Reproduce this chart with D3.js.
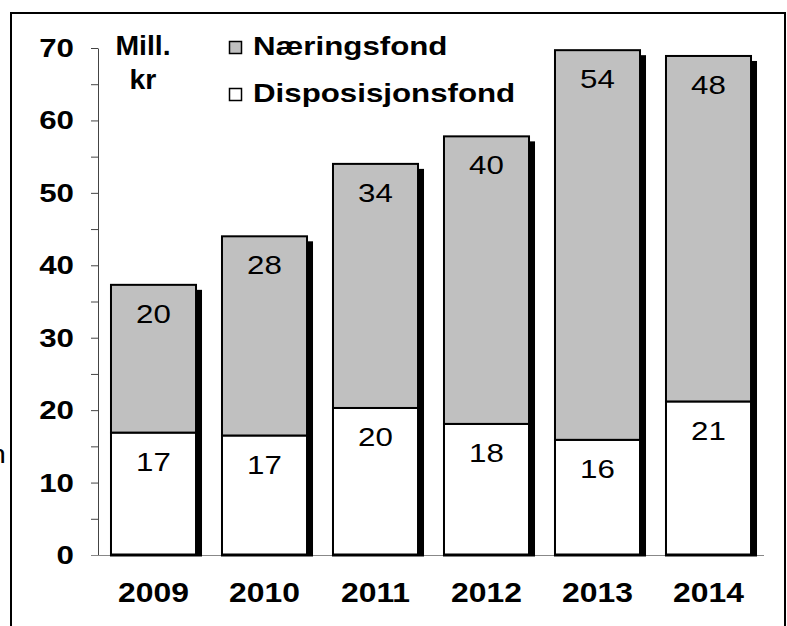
<!DOCTYPE html>
<html>
<head>
<meta charset="utf-8">
<script src="https://cdn.jsdelivr.net/npm/d3@7/dist/d3.min.js"></script>
<style>
  html, body { margin: 0; padding: 0; background: #fff; }
  #wrap { position: relative; width: 787px; height: 626px; overflow: hidden; }
  #frame { position: absolute; left: 10px; top: 12px; width: 772px; height: 700px;
           border: 2px solid #000; box-sizing: content-box; pointer-events: none; }
  svg { display: block; }
  text { font-family: "Liberation Sans", Arial, sans-serif; fill: #000; }
</style>
</head>
<body>
<div id="wrap">
<svg id="chart" width="787" height="626"></svg>
<div id="frame"></div>
</div>
<script>
// ---- data ----
const years = ["2009", "2010", "2011", "2012", "2013", "2014"];
const disposisjonsfond = [16.9, 16.5, 20.3, 18.1, 15.9, 21.2];
const naeringsfond = [20.4, 27.5, 33.7, 39.7, 53.8, 47.7];
const disposisjonsfondLabels = ["17", "17", "20", "18", "16", "21"];
const naeringsfondLabels = ["20", "28", "34", "40", "54", "48"];
const yTicks = [0, 5, 10, 15, 20, 25, 30, 35, 40, 45, 50, 55, 60, 65, 70];
const seriesNames = ["Næringsfond", "Disposisjonsfond"];
const unitLines = ["Mill.", "kr"];

// ---- layout ----
const SX = 1.18;          // horizontal text stretch seen in the reference
const FS = 26.5;
const svg = d3.select("#chart");

const x = d3.scaleBand().domain(years).range([98, 764]).paddingInner(0.234).paddingOuter(0.117);
const y = d3.scaleLinear().domain([0, 70]).range([555, 48]);

// outer frame
svg.append("path").attr("d", "M11,626V13H785V626")
  .attr("fill", "none").attr("stroke", "#000").attr("stroke-width", 2);

// clipped stray label at far left
svg.append("text").attr("text-anchor", "end")
  .attr("transform", "translate(6,463) scale(" + SX + ",1)")
  .style("font-size", "25px").text("n");

// y axis
const yAxis = svg.append("g").attr("transform", "translate(98,0)")
  .call(d3.axisLeft(y).tickValues(yTicks).tickSize(7).tickSizeOuter(0).tickPadding(17)
    .tickFormat(d => d % 10 === 0 ? d : ""));
yAxis.select(".domain").attr("stroke", "#444").attr("stroke-width", 1);
yAxis.selectAll(".tick line").attr("stroke", "#444");
yAxis.selectAll(".tick text")
  .attr("x", null).attr("dy", null)
  .attr("transform", "translate(-24,8.5) scale(" + SX + ",1)")
  .style("font-size", FS + "px").style("font-weight", "bold").attr("fill", "#000");

// x axis
const xAxis = svg.append("g").attr("transform", "translate(0,555)")
  .call(d3.axisBottom(x).tickSize(0).tickSizeOuter(0).tickPadding(28));
xAxis.select(".domain").attr("stroke", "#888").attr("stroke-width", 1)
  .attr("d", "M91,0.5H764");
xAxis.selectAll(".tick text")
  .attr("y", null).attr("dy", null)
  .attr("transform", "translate(0,47) scale(" + SX + ",1)")
  .style("font-size", "27px").style("font-weight", "bold").attr("fill", "#000");

// bars
const data = years.map((yr, i) => ({
  year: yr, d: disposisjonsfond[i], n: naeringsfond[i],
  dl: disposisjonsfondLabels[i], nl: naeringsfondLabels[i]
}));

const defs = svg.append("defs");
defs.append("clipPath").attr("id", "plotclip").append("rect")
  .attr("x", 98).attr("y", 0).attr("width", 700).attr("height", 556);

const bw = x.bandwidth();
const bars = svg.append("g");

// shadows
bars.append("g").attr("clip-path", "url(#plotclip)").selectAll("rect").data(data).join("rect")
  .attr("x", d => x(d.year) + 6).attr("y", d => y(d.d + d.n) + 5)
  .attr("width", bw).attr("height", d => y(0) - y(d.d + d.n))
  .attr("fill", "#000");

// Disposisjonsfond (white)
bars.append("g").selectAll("rect").data(data).join("rect")
  .attr("x", d => x(d.year)).attr("y", d => y(d.d))
  .attr("width", bw).attr("height", d => y(0) - y(d.d))
  .attr("fill", "#fff").attr("stroke", "#000").attr("stroke-width", 2);

// Næringsfond (grey)
bars.append("g").selectAll("rect").data(data).join("rect")
  .attr("x", d => x(d.year)).attr("y", d => y(d.d + d.n))
  .attr("width", bw).attr("height", d => y(d.d) - y(d.d + d.n))
  .attr("fill", "#c0c0c0").attr("stroke", "#000").attr("stroke-width", 2);

// thick base line under each bar
bars.append("g").selectAll("line").data(data).join("line")
  .attr("x1", d => x(d.year) - 1).attr("x2", d => x(d.year) + bw + 6)
  .attr("y1", y(0)).attr("y2", y(0))
  .attr("stroke", "#000").attr("stroke-width", 3);

// value labels
const labels = svg.append("g");
labels.selectAll("text.dl").data(data).join("text").attr("class", "dl")
  .attr("text-anchor", "middle")
  .attr("transform", d => "translate(" + (x(d.year) + bw / 2) + "," + (y(d.d) + 38.5) + ") scale(" + SX + ",1)")
  .style("font-size", FS + "px").text(d => d.dl);
labels.selectAll("text.nl").data(data).join("text").attr("class", "nl")
  .attr("text-anchor", "middle")
  .attr("transform", d => "translate(" + (x(d.year) + bw / 2) + "," + (y(d.d + d.n) + 38) + ") scale(" + SX + ",1)")
  .style("font-size", FS + "px").text(d => d.nl);

// unit label
svg.append("g").selectAll("text").data(unitLines).join("text")
  .attr("text-anchor", "middle")
  .attr("transform", (d, i) => "translate(143," + (55 + i * 34) + ") scale(1.05,1)")
  .style("font-size", "27px").style("font-weight", "bold").text(d => d);

// legend
const legendFills = ["#c0c0c0", "#fff"];
const legend = svg.append("g");
const li = legend.selectAll("g").data(seriesNames).join("g")
  .attr("transform", (d, i) => "translate(229," + (41 + i * 47) + ")");
li.append("rect").attr("x", 0.5).attr("y", 0.5).attr("width", 12).attr("height", 12)
  .attr("fill", (d, i) => legendFills[i]).attr("stroke", "#000").attr("stroke-width", 1.5);
li.append("text")
  .attr("transform", "translate(24,13.5) scale(" + SX + ",1)")
  .style("font-size", FS + "px").style("font-weight", "bold").text(d => d);
</script>
</body>
</html>
